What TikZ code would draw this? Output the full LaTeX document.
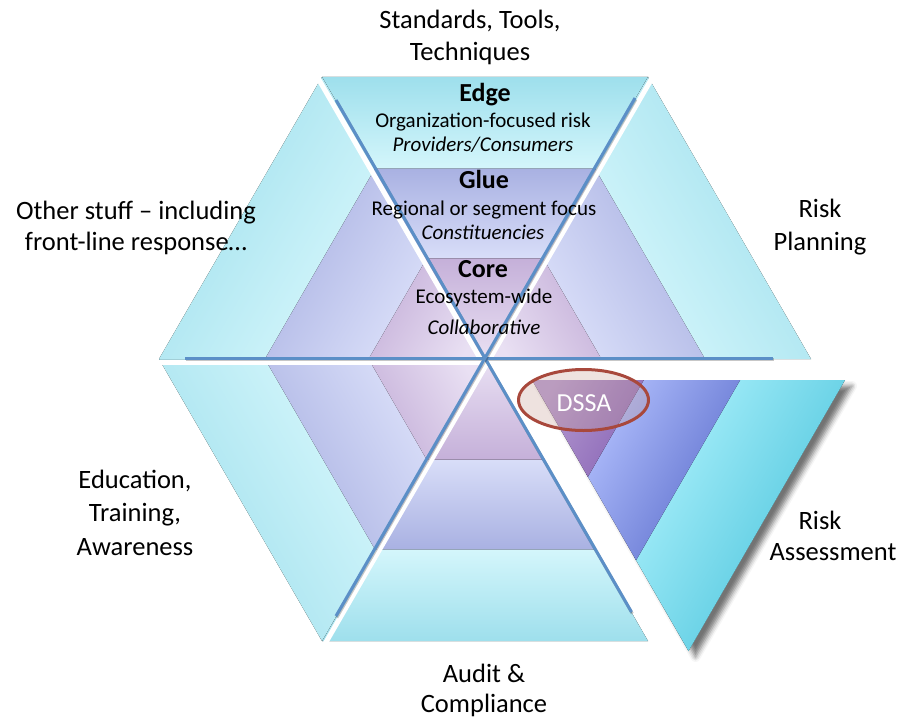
\documentclass[tikz,border=0pt]{standalone}
\usepackage{fontspec}
\setmainfont{Carlito}
\usetikzlibrary{calc,shapes.geometric,shadows.blur}
\definecolor{hexoutD}{HTML}{9EDFEC}
\definecolor{hexoutL}{HTML}{D6F7FC}
\definecolor{hexglueD}{HTML}{A9B1E2}
\definecolor{hexglueL}{HTML}{DADFF9}
\definecolor{hexcoreD}{HTML}{C5B0D9}
\definecolor{hexcoreL}{HTML}{E9E0F3}
\definecolor{exoutD}{HTML}{45C1DA}
\definecolor{exoutL}{HTML}{AAF0FB}
\definecolor{exglueD}{HTML}{5A6CCB}
\definecolor{exglueL}{HTML}{AEBCFB}
\definecolor{excoreD}{HTML}{8A66B6}
\definecolor{excoreL}{HTML}{B59BD1}
\definecolor{lineblue}{HTML}{5B8FC7}
\definecolor{dssared}{HTML}{A8483C}
\definecolor{dssafill}{HTML}{C8A096}
\newcommand\hexsec[6]{%
  \pgfmathsetmacro\gin{#6-0.012}%
  \coordinate (ga) at ($(#1)!#6!(#2)$);
  \coordinate (gb) at ($(#1)!#6!(#3)$);
  \coordinate (gia) at ($(#1)!\gin!(#2)$);
  \coordinate (gib) at ($(#1)!\gin!(#3)$);
  \coordinate (ka) at ($(#1)!0.357!(#2)$);
  \coordinate (kb) at ($(#1)!0.357!(#3)$);
  \coordinate (kia) at ($(#1)!0.345!(#2)$);
  \coordinate (kib) at ($(#1)!0.345!(#3)$);
  \fill[top color=#5outD, bottom color=#5outL, shading angle=#4] (#2) -- (#3) -- (gib) -- (gia) -- cycle;
  \fill[top color=#5glueD, bottom color=#5glueL, shading angle=#4] (ga) -- (gb) -- (kib) -- (kia) -- cycle;
  \fill[top color=#5coreD, bottom color=#5coreL, shading angle=#4] (ka) -- (kb) -- (#1) -- cycle;
}
\tikzset{
  lab/.style={font=\fontsize{26.5}{32}\selectfont, anchor=base, inner sep=0pt},
  inn/.style={font=\fontsize{21}{25}\selectfont, anchor=base, inner sep=0pt},
  ttl/.style={font=\fontsize{26}{30}\selectfont\bfseries, anchor=base, inner sep=0pt},
  gapline/.style={white, line width=5pt},
  divline/.style={lineblue, line width=3pt},
  divshadow/.style={black, opacity=0.22, line width=3pt},
}
\begin{document}
\begin{tikzpicture}[x=1pt,y=-1pt]
\useasboundingbox (0,0) rectangle (901,719);
\coordinate (C) at (485,359);
\coordinate (V0) at (811,359);
\coordinate (V1) at (648,77);
\coordinate (V2) at (322,77);
\coordinate (V3) at (159,359);
\coordinate (V4) at (322,641);
\coordinate (V5) at (648,641);
% sectors
\hexsec{C}{V2}{V1}{0}{hex}{0.675}
\hexsec{C}{V1}{V0}{-60}{hex}{0.675}
\hexsec{C}{V5}{V4}{180}{hex}{0.675}
\hexsec{C}{V4}{V3}{120}{hex}{0.675}
\hexsec{C}{V3}{V2}{60}{hex}{0.675}
% white gaps between sectors
\coordinate (gTL0) at ($(C)+(-3.5,2)$);
\coordinate (gTL1) at ($(C)!1.06!(V2)+(-3.5,2)$);
\coordinate (gTR0) at ($(C)+(3.5,2)$);
\coordinate (gTR1) at ($(C)!1.06!(V1)+(3.5,2)$);
\coordinate (gBL0) at ($(C)+(3.5,2)$);
\coordinate (gBL1) at ($(C)!1.06!(V4)+(3.5,2)$);
\coordinate (gH0) at (150,362.5);
\coordinate (gH1) at (820,362.5);
\draw[gapline] (gTL0) -- (gTL1);
\draw[gapline] (gTR0) -- (gTR1);
\draw[gapline] (gBL0) -- (gBL1);
\draw[gapline] (gH0) -- (gH1);
% dividing lines
\coordinate (h1) at (185,358);
\coordinate (h2) at (773,358);
\coordinate (d1a) at (336,100);
\coordinate (d1b) at (631.5,612);
\coordinate (d2a) at (635,98);
\coordinate (d2b) at (336,616);
\foreach \a/\b in {h1/h2,d1a/d1b,d2a/d2b}{
  \draw[divshadow] ($(\a)+(0.8,1.6)$) -- ($(\b)+(0.8,1.6)$);
  \draw[divline] (\a) -- (\b);
}
% exploded sector
\coordinate (Ce) at (532,380);
\coordinate (E0) at (845,380);
\coordinate (E5) at (688.5,651);
\path[fill=white, blur shadow={shadow xshift=7pt, shadow yshift=-6pt, shadow blur radius=5pt, shadow opacity=55}] (Ce) -- (E0) -- (E5) -- cycle;
\hexsec{Ce}{E0}{E5}{-120}{ex}{0.665}
% DSSA ellipse
\node[ellipse, draw=dssared, line width=3pt, fill=dssafill, fill opacity=0.3, draw opacity=1, text opacity=1,
      minimum width=130pt, minimum height=61pt, inner sep=0pt] (dssa) at (583.5,400) {};
\node[font=\fontsize{26}{30}\selectfont, text=white, anchor=base, inner sep=0pt] (dssat) at (584,411) {DSSA};
% inner texts
\node[ttl] (edge) at (485,102) {Edge};
\node[inn] (edge1) at (483,128) {Organization-focused risk};
\node[inn] (edge2) at (483,152) {\itshape Providers/Consumers};
\node[ttl] (glue) at (484,189) {Glue};
\node[inn] (glue1) at (484,215) {Regional or segment focus};
\node[inn] (glue2) at (483,240) {\itshape Constituencies};
\node[ttl] (core) at (483,277) {Core};
\node[inn] (core1) at (484,303) {Ecosystem-wide};
\node[inn] (core2) at (484,334) {\itshape Collaborative};
% outer labels
\node[lab] (std1) at (470,29) {Standards, Tools,};
\node[lab] (std2) at (470,61) {Techniques};
\node[lab] (oth1) at (136,219) {Other stuff – including};
\node[lab] (oth2) at (136,251) {front-line response…};
\node[lab] (rp1) at (820,218) {Risk};
\node[lab] (rp2) at (820,250) {Planning};
\node[lab] (ed1) at (135,488) {Education,};
\node[lab] (ed2) at (135,521) {Training,};
\node[lab] (ed3) at (135,555) {Awareness};
\node[lab] (au1) at (484,682) {Audit \&};
\node[lab] (au2) at (484,712) {Compliance};
\node[lab] (ra1) at (820,529) {Risk};
\node[lab] (ra2) at (833,560) {Assessment};
\end{tikzpicture}
\end{document}
